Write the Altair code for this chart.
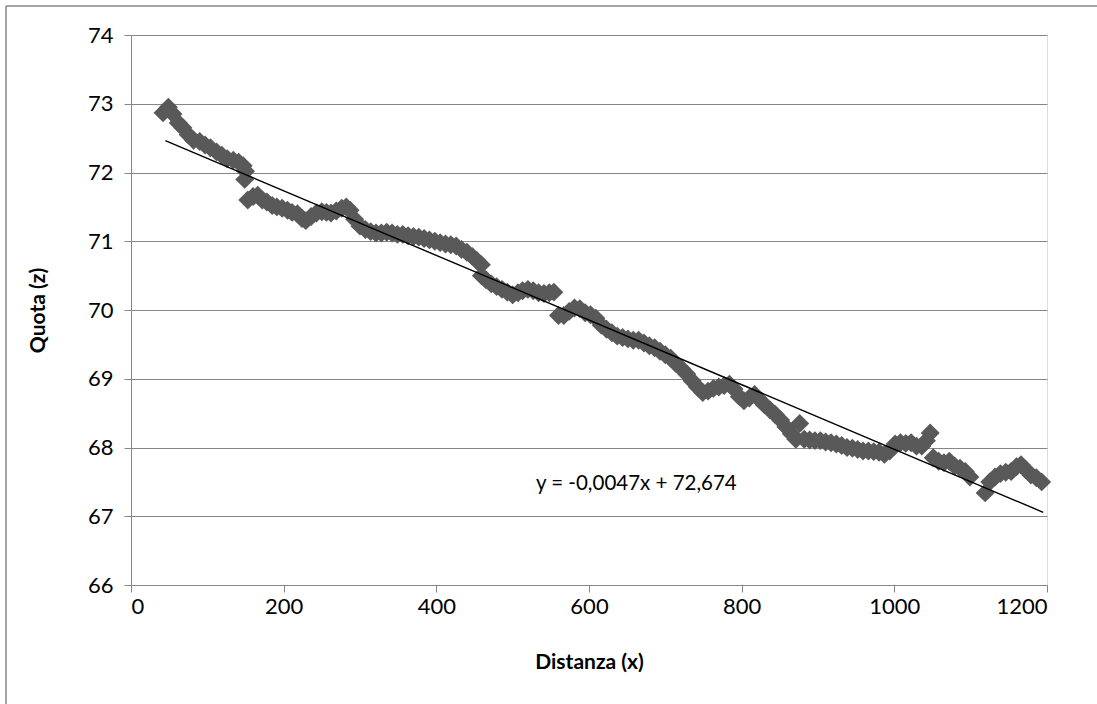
import altair as alt
import pandas as pd

distanza = [42, 49, 55, 62, 68, 75, 82, 90, 97, 104, 112, 119, 126, 134, 141, 147, 150, 149, 153, 160,
            166, 172, 178, 185, 191, 198, 205, 211, 218, 224, 229, 236, 243, 250, 256, 262, 269, 276, 282, 287,
            293, 300, 307, 314, 321, 328, 335, 342, 349, 356, 363, 370, 377, 384, 391, 398, 405, 412, 419, 426,
            433, 440, 447, 453, 459, 459, 465, 472, 479, 486, 493, 500, 507, 513, 520, 527, 534, 541, 548, 554,
            560, 567, 574, 581, 588, 595, 602, 609, 616, 623, 630, 637, 644, 651, 658, 665, 672, 679, 686, 693,
            700, 707, 714, 721, 728, 735, 742, 749, 756, 763, 770, 777, 784, 790, 797, 803, 810, 817, 823, 830,
            837, 844, 851, 858, 865, 871, 876, 882, 889, 896, 903, 910, 917, 924, 931, 938, 945, 952, 959, 966,
            973, 980, 987, 994, 1001, 1008, 1015, 1022, 1029, 1036, 1042, 1047, 1051, 1058, 1065, 1072, 1079, 1086, 1093, 1099,
            1119, 1125, 1132, 1139, 1146, 1153, 1160, 1166, 1172, 1179, 1186, 1193]
quota = [72.87, 72.95, 72.85, 72.72, 72.65, 72.55, 72.47, 72.45, 72.40, 72.36, 72.30, 72.25, 72.20, 72.18, 72.15, 72.10, 72.02, 71.90, 71.60, 71.65,
         71.67, 71.60, 71.57, 71.52, 71.50, 71.48, 71.45, 71.42, 71.40, 71.33, 71.30, 71.36, 71.41, 71.43, 71.42, 71.41, 71.44, 71.48, 71.50, 71.45,
         71.32, 71.22, 71.17, 71.14, 71.12, 71.12, 71.13, 71.12, 71.10, 71.10, 71.08, 71.07, 71.06, 71.04, 71.02, 71.00, 70.98, 70.96, 70.95, 70.93,
         70.88, 70.84, 70.78, 70.72, 70.66, 70.50, 70.44, 70.38, 70.34, 70.30, 70.26, 70.22, 70.25, 70.28, 70.30, 70.28, 70.25, 70.24, 70.25, 70.26,
         69.92, 69.92, 69.98, 70.03, 70.02, 69.96, 69.93, 69.88, 69.78, 69.72, 69.67, 69.62, 69.60, 69.58, 69.56, 69.56, 69.52, 69.48, 69.45, 69.40,
         69.35, 69.30, 69.22, 69.15, 69.07, 68.97, 68.88, 68.80, 68.82, 68.86, 68.88, 68.90, 68.92, 68.85, 68.74, 68.68, 68.72, 68.77, 68.70, 68.62,
         68.55, 68.48, 68.40, 68.30, 68.20, 68.12, 68.35, 68.12, 68.11, 68.10, 68.10, 68.08, 68.07, 68.05, 68.03, 68.00, 67.99, 67.97, 67.95, 67.95,
         67.94, 67.93, 67.90, 67.95, 68.05, 68.07, 68.06, 68.07, 68.02, 68.02, 68.10, 68.21, 67.85, 67.80, 67.78, 67.80, 67.73, 67.70, 67.65, 67.57,
         67.34, 67.50, 67.57, 67.62, 67.64, 67.65, 67.72, 67.75, 67.68, 67.60, 67.56, 67.50]

slope = -0.0047
intercept = 72.674
trend_x = [45, 1195]
equation_label = "y = -0,0047x + 72,674"
label_pos = [662, 67.47]

FONT = "Lato"
GRAY = "#868686"

df = pd.DataFrame({"x": distanza, "z": quota})
trend_df = pd.DataFrame({"x": trend_x, "z": [intercept + slope * v for v in trend_x]})
label_df = pd.DataFrame({"x": [label_pos[0]], "z": [label_pos[1]], "t": [equation_label]})

xs = alt.Scale(domain=[0, 1200], nice=False)
ys = alt.Scale(domain=[66, 74], nice=False)

xaxis = alt.Axis(values=list(range(0, 1201, 200)), format="d", title="Distanza (x)", grid=False,
                 labelFontSize=22, titleFontSize=21, labelFont=FONT, titleFont=FONT,
                 titleFontWeight="bold", labelColor="black", titleColor="black",
                 domainColor=GRAY, tickColor=GRAY, tickSize=7, labelPadding=4, titlePadding=34)
yaxis = alt.Axis(values=list(range(66, 75)), format="d", title="Quota (z)", grid=True, gridColor=GRAY,
                 labelFontSize=22, titleFontSize=21, labelFont=FONT, titleFont=FONT,
                 titleFontWeight="bold", labelColor="black", titleColor="black",
                 domainColor=GRAY, tickColor=GRAY, tickSize=7, labelPadding=11, titlePadding=39)

points = alt.Chart(df).mark_point(shape="diamond", filled=True, size=360, color="#595959", opacity=1).encode(
    x=alt.X("x:Q", scale=xs, axis=xaxis),
    y=alt.Y("z:Q", scale=ys, axis=yaxis),
)

trend = alt.Chart(trend_df).mark_line(color="black", strokeWidth=1.4).encode(
    x=alt.X("x:Q", scale=xs), y=alt.Y("z:Q", scale=ys)
)

label = alt.Chart(label_df).mark_text(fontSize=20.5, font=FONT, color="black", align="center", baseline="middle").encode(
    x=alt.X("x:Q", scale=xs), y=alt.Y("z:Q", scale=ys), text="t:N"
)

frame_left = alt.Chart(pd.DataFrame({"a": [0]})).mark_rule(color=GRAY, strokeWidth=1.5).encode(
    x=alt.value(-125), y=alt.value(-29), y2=alt.value(669)
)
frame_top = alt.Chart(pd.DataFrame({"a": [0]})).mark_rule(color=GRAY, strokeWidth=1.5).encode(
    x=alt.value(-125), x2=alt.value(966), y=alt.value(-29)
)

chart = alt.layer(frame_left, frame_top, points, trend, label).properties(
    width=916, height=550,
    autosize=alt.AutoSizeParams(type="none"),
    padding={"left": 131, "top": 35, "right": 50, "bottom": 119},
).configure_view(stroke=None).configure(background="white")

chart.save("out.html", embed_options={"renderer": "svg", "actions": False})
